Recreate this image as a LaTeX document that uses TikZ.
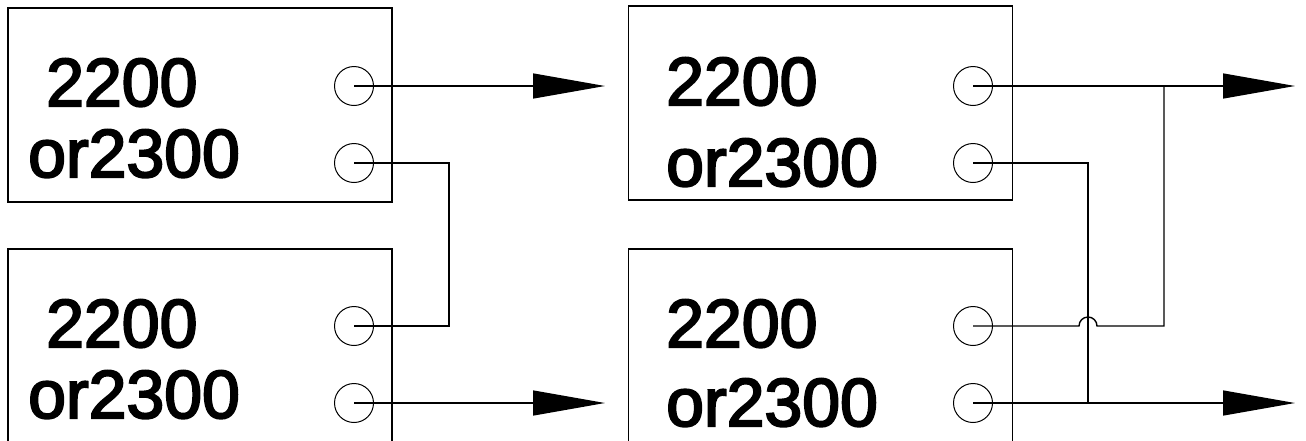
\documentclass[tikz,border=0pt]{standalone}
\usepackage{fontspec}
\setmainfont{Liberation Sans}
\newfontfamily\lblfont{Liberation Sans}[FakeBold=3]
\usetikzlibrary{arrows.meta,calc}
\begin{document}
\begin{tikzpicture}[x=1pt,y=-1pt,
  box/.style={draw, line width=1.3pt, inner sep=0, minimum width=384pt, minimum height=194pt},
  port/.style={circle, draw, line width=1pt, minimum size=39pt, inner sep=0},
  wire/.style={line width=1.4pt},
  lbl/.style={inner sep=0, anchor=base west, font=\fontsize{68}{80}\lblfont},
  arr/.style={wire, -{Triangle[length=72pt,width=25pt]}}]
\useasboundingbox (0,0) rectangle (1306,440);
% boxes
\node[box] (b1) at (200,105) {};
\node[box] (b2) at (200,346) {};
\node[box] (b3) at (820.5,103) {};
\node[box] (b4) at (820.5,346) {};
% labels
\node[lbl] (l1a) at (46,106) {2200};
\node[lbl] (l1b) at (28,177) {or2300};
\node[lbl] (l2a) at (46,347) {2200};
\node[lbl] (l2b) at (28,418) {or2300};
\node[lbl] (l3a) at (666,105) {2200};
\node[lbl] (l3b) at (666,186) {or2300};
\node[lbl] (l4a) at (666,347) {2200};
\node[lbl] (l4b) at (666,426) {or2300};
% ports
\node[port] (p1a) at (354,86) {};
\node[port] (p1b) at (354,163) {};
\node[port] (p2a) at (354,326) {};
\node[port] (p2b) at (354,403) {};
\node[port] (p3a) at (973,86) {};
\node[port] (p3b) at (973,163) {};
\node[port] (p4a) at (973,326) {};
\node[port] (p4b) at (973,403) {};
% free ends and bend columns
\coordinate (t1) at (605,86);
\coordinate (t2) at (605,403);
\coordinate (t3) at (1295,86);
\coordinate (t4) at (1295,403);
\coordinate (k1) at (449,0);
\coordinate (k2) at (1164,0);
\coordinate (k3) at (1088,0);
% wires
\draw[arr] (p1a.center) -- (t1);
\draw[wire] (p1b.center) -| (k1|-p2a) -- (p2a.center);
\draw[arr] (p2b.center) -- (t2);
\draw[arr] (p3a.center) -- (t3);
\draw[wire] (k2|-p3a) -- (k2|-p4a) -- ($(k3|-p4a)+(9,0)$) arc[start angle=0, end angle=180, radius=9pt] -- (p4a.center);
\draw[wire] (p3b.center) -| (k3|-p4b);
\draw[arr] (p4b.center) -- (t4);
\end{tikzpicture}
\end{document}
